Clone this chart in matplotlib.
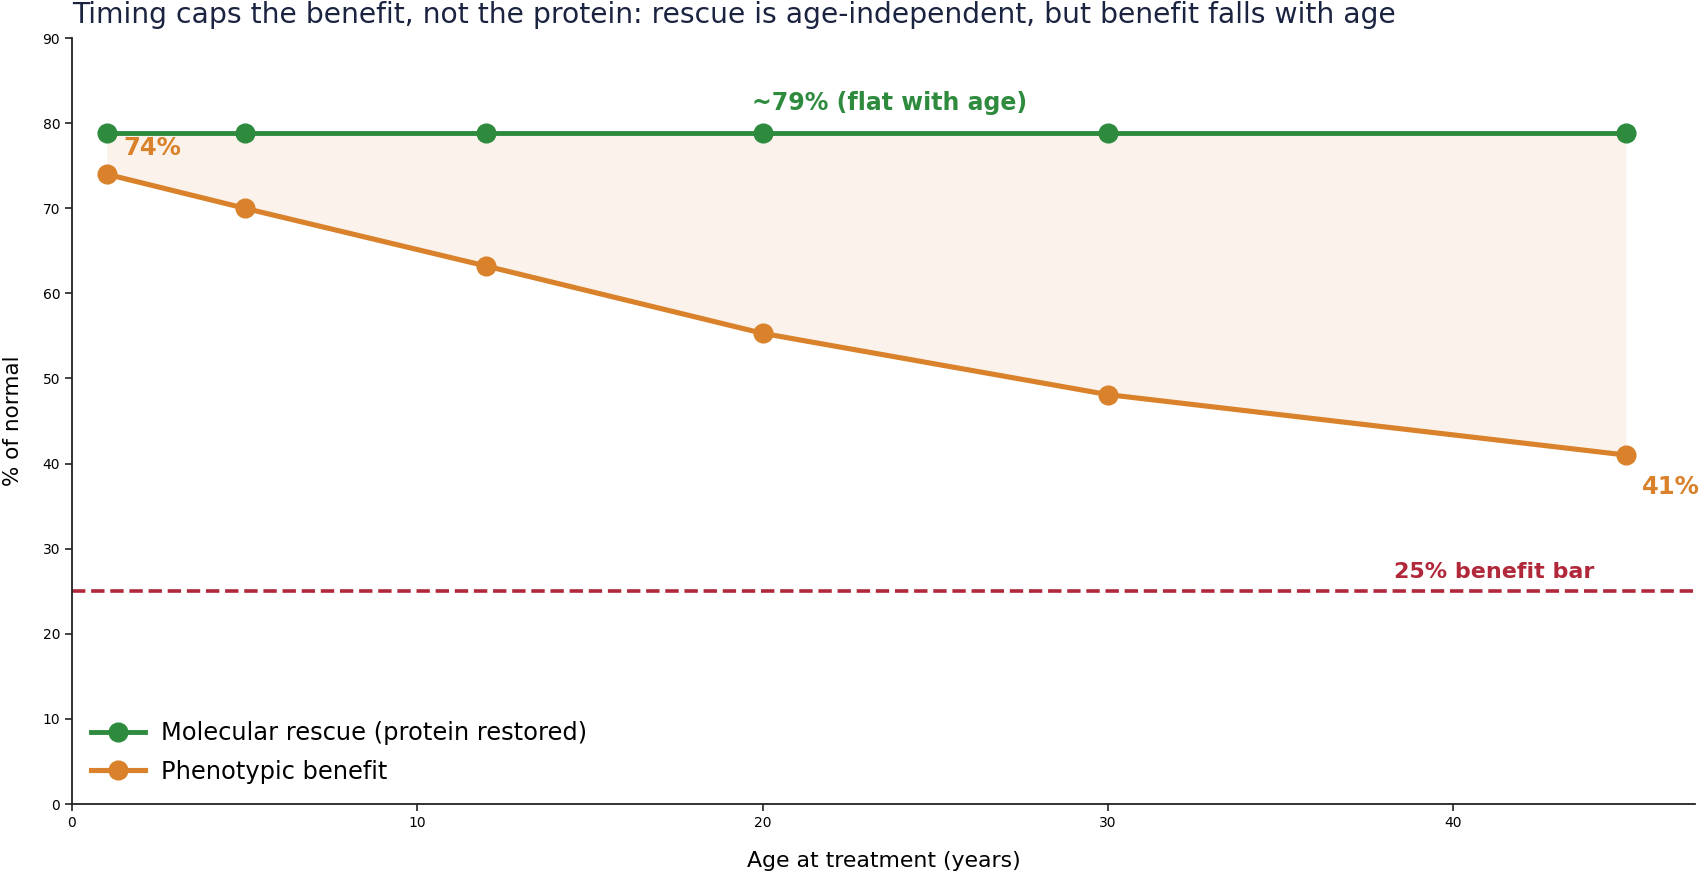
import matplotlib
matplotlib.use("Agg")
import matplotlib.pyplot as plt

ages = [1, 5, 12, 20, 30, 45]
molecular = [78.8, 78.8, 78.8, 78.8, 78.8, 78.8]
phenotypic = [74.0, 70.0, 63.2, 55.3, 48.1, 41.0]
benefit_bar = 25

GREEN = "#2e8b3e"
ORANGE = "#d9822b"
RED = "#b0283a"

fig = plt.figure(figsize=(17.01, 8.72), dpi=100)
ax = fig.add_axes([72/1701, 1-804/872, (1695-72)/1701, (804-38)/872])

ax.fill_between(ages, phenotypic, molecular, color=ORANGE, alpha=0.09, linewidth=0)
ax.plot(ages, molecular, color=GREEN, lw=3.5, marker="o", ms=13.5,
        label="Molecular rescue (protein restored)")
ax.plot(ages, phenotypic, color=ORANGE, lw=3.7, marker="o", ms=13.5,
        label="Phenotypic benefit")
ax.axhline(benefit_bar, color=RED, lw=2.6, ls="--")

ax.text(ages[0] + 0.5, 77.1, f"{phenotypic[0]:.0f}%", color=ORANGE,
        fontsize=17.5, fontweight="bold", ha="left", va="center")
ax.text(ages[-1] + 0.47, 37.3, f"{phenotypic[-1]:.0f}%", color=ORANGE,
        fontsize=17.5, fontweight="bold", ha="left", va="center", clip_on=False)
ax.text(23.68, 82.4, "~79% (flat with age)", color=GREEN,
        fontsize=17, fontweight="bold", ha="center", va="center")
ax.text(41.18, 27.3, "25% benefit bar", color=RED,
        fontsize=16, fontweight="bold", ha="center", va="center")

ax.set_xlim(0, 47.0)
ax.set_ylim(0, 90)
ax.set_xticks([0, 10, 20, 30, 40])
ax.set_yticks(range(0, 91, 10))
ax.tick_params(labelsize=10, length=5, width=1.2, color="#222222")
for s in ["top", "right"]:
    ax.spines[s].set_visible(False)
for s in ["left", "bottom"]:
    ax.spines[s].set_linewidth(1.3)
    ax.spines[s].set_color("#222222")

ax.set_xlabel("Age at treatment (years)", fontsize=15.8, labelpad=15)
ax.set_ylabel("% of normal", fontsize=15.5, labelpad=14)
ax.set_title("Timing caps the benefit, not the protein: rescue is age-independent, but benefit falls with age",
             loc="left", fontsize=20.3, color="#1a2340", pad=11)

ax.legend(loc="lower left", frameon=False, fontsize=17.4, bbox_to_anchor=(-0.002, -0.002),
          handlelength=2.25, handletextpad=0.65, labelspacing=0.6)

fig.savefig("out.png", dpi=100)
